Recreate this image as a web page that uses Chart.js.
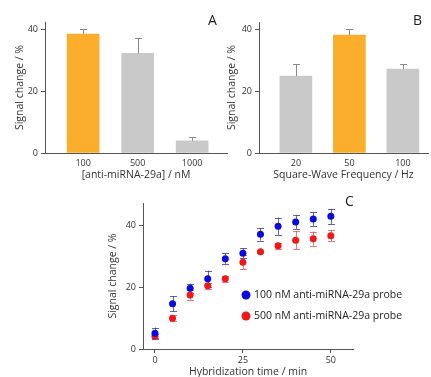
<!DOCTYPE html>
<html>
<head>
<meta charset="utf-8">
<script src="https://cdn.jsdelivr.net/npm/chart.js@4"></script>
<style>
  html, body { margin:0; padding:0; background:#fff; }
  body { position:relative; width:431px; height:377px; overflow:hidden; font-family:"Open Sans", sans-serif; }
  canvas { position:absolute; }
  .tag { position:absolute; font-size:14px; color:#222; }
</style>
</head>
<body>
<canvas id="chartA" width="232" height="185" style="left:0;top:0"></canvas>
<canvas id="chartB" width="216" height="185" style="left:215px;top:0"></canvas>
<canvas id="chartC" width="331" height="190" style="left:100px;top:190px"></canvas>
<div class="tag" style="left:208px;top:10px">A</div>
<div class="tag" style="left:413px;top:10px">B</div>
<div class="tag" style="left:345px;top:191px">C</div>
<script>
// panel A: concentration
const concLabels = ['100', '500', '1000'];
const concSignal = [38.4, 32.2, 3.9];
const concError  = [1.6, 4.8, 1.3];

// panel B: frequency
const freqLabels = ['20', '50', '100'];
const freqSignal = [24.8, 38.1, 27.1];
const freqError  = [3.9, 1.9, 1.6];

// panel C: kinetics
const timeMin   = [0, 5, 10, 15, 20, 25, 30, 35, 40, 45, 50];
const signal100 = [5.1, 14.6, 19.6, 22.7, 29.1, 30.9, 37.0, 39.6, 41.0, 41.9, 42.8];
const err100    = [1.8, 2.5, 1.5, 2.6, 1.8, 1.6, 2.0, 2.8, 2.2, 2.2, 2.4];
const signal500 = [4.1, 9.9, 17.4, 20.4, 22.7, 28.0, 31.4, 33.3, 35.1, 35.6, 36.5];
const err500    = [0.7, 1.0, 1.6, 1.0, 1.0, 2.3, 0.3, 1.0, 2.9, 2.3, 1.8];

const yTicks = [0, 20, 40];
const cTicks = [0, 25, 50];

Chart.defaults.font.family = '"Open Sans", sans-serif';
Chart.defaults.color = '#333';
Chart.defaults.animation = false;

const AXIS = '#555';

const errorBars = {
  id: 'errorBars',
  draw(chart, opts) {
    const ctx = chart.ctx, y = chart.scales.y;
    chart.data.datasets.forEach((ds, i) => {
      if (!ds.errors) return;
      const meta = chart.getDatasetMeta(i);
      ctx.save();
      ctx.strokeStyle = ds.errorColor;
      ctx.lineWidth = 1;
      meta.data.forEach((el, j) => {
        const v = ds.data[j].y, e = ds.errors[j];
        const x = Math.round(el.x) + 0.5;
        const top = y.getPixelForValue(v + e);
        const bot = opts.upOnly ? y.getPixelForValue(v) : y.getPixelForValue(v - e);
        const cap = opts.cap;
        ctx.beginPath();
        ctx.moveTo(x, bot); ctx.lineTo(x, top);
        ctx.moveTo(x - cap, Math.round(top) + 0.5); ctx.lineTo(x + cap, Math.round(top) + 0.5);
        if (!opts.upOnly) {
          ctx.moveTo(x - cap, Math.round(bot) + 0.5); ctx.lineTo(x + cap, Math.round(bot) + 0.5);
        }
        ctx.stroke();
      });
      ctx.restore();
    });
  },
  beforeDatasetsDraw(chart, args, opts) { if (opts.below) this.draw(chart, opts); },
  afterDatasetsDraw(chart, args, opts) { if (!opts.below) this.draw(chart, opts); }
};

const dotLegend = {
  id: 'dotLegend',
  afterDraw(chart, args, opts) {
    if (!opts.show) return;
    const ctx = chart.ctx;
    chart.data.datasets.forEach((ds, i) => {
      const y = opts.y + i * opts.gap;
      ctx.save();
      ctx.fillStyle = ds.backgroundColor;
      ctx.beginPath();
      ctx.arc(opts.x, y, 4.5, 0, Math.PI * 2);
      ctx.fill();
      ctx.fillStyle = '#222';
      ctx.font = '10.5px "Open Sans", sans-serif';
      ctx.textBaseline = 'middle';
      ctx.fillText(ds.label, opts.x + 8, y + 0.5);
      ctx.restore();
    });
  }
};

function yAxis(width, titlePad) {
  return {
    min: 0, max: 42.3,
    afterBuildTicks: s => { s.ticks = yTicks.map(v => ({value: v})); },
    afterFit: s => { s.width = width; },
    border: {color: AXIS, width: 1},
    grid: {drawOnChartArea: false, tickLength: 4, color: AXIS},
    ticks: {font: {size: 9}, padding: 3, color: '#333'},
    title: {display: true, text: 'Signal change / %', font: {size: 10.5}, color: '#333', padding: {top: titlePad, bottom: titlePad}}
  };
}

function barChart(id, labels, values, errors, highlight, xTitle, yWidth, yTitlePad, padRight, xMin, xMax) {
  return new Chart(document.getElementById(id), {
    type: 'bar',
    data: {
      datasets: [{
        data: values.map((v, i) => ({x: i, y: v})),
        errors: errors,
        errorColor: '#8a8a8a',
        backgroundColor: values.map((v, i) => i === highlight ? '#fbad2c' : '#c9c9c9'),
        barThickness: 32
      }]
    },
    options: {
      responsive: false,
      layout: {padding: {left: 0, top: 22, right: padRight, bottom: 0}},
      plugins: {legend: {display: false}, tooltip: {enabled: false}, errorBars: {upOnly: true, cap: 3.5}},
      scales: {
        x: {
          type: 'linear', min: xMin, max: xMax, offset: false,
          afterBuildTicks: s => { s.ticks = labels.map((l, i) => ({value: i})); },
          afterFit: s => { s.height = 32; },
          border: {color: AXIS, width: 1},
          grid: {display: true, drawOnChartArea: false, drawTicks: false, offset: false},
          ticks: {font: {size: 9}, padding: 5, color: '#333', callback: v => labels[v]},
          title: {display: true, text: xTitle, font: {size: 10.5}, color: '#333', padding: {top: 3.7, bottom: 3.7}}
        },
        y: yAxis(yWidth, yTitlePad)
      }
    },
    plugins: [errorBars]
  });
}

barChart('chartA', concLabels, concSignal, concError, 0, '[anti-miRNA-29a] / nM', 45, 13.7, 5, -0.70, 2.64);
barChart('chartB', freqLabels, freqSignal, freqError, 1, 'Square-Wave Frequency / Hz', 44, 10.7, 3, -0.69, 2.47);

new Chart(document.getElementById('chartC'), {
  type: 'scatter',
  data: {
    datasets: [
      {
        label: '100 nM anti-miRNA-29a probe',
        data: timeMin.map((t, i) => ({x: t, y: signal100[i]})),
        errors: err100, errorColor: 'rgba(40,40,200,0.75)',
        backgroundColor: '#0a0ade', borderWidth: 0, pointRadius: 3.5
      },
      {
        label: '500 nM anti-miRNA-29a probe',
        data: timeMin.map((t, i) => ({x: t, y: signal500[i]})),
        errors: err500, errorColor: 'rgba(235,60,60,0.7)',
        backgroundColor: '#f21616', borderWidth: 0, pointRadius: 3.5
      }
    ]
  },
  options: {
    responsive: false,
    layout: {padding: {left: 0, top: 13, right: 78, bottom: 0}},
    plugins: {
      legend: {display: false}, tooltip: {enabled: false},
      errorBars: {below: true, cap: 3.5},
      dotLegend: {show: true, x: 146, y: 105, gap: 21}
    },
    scales: {
      x: {
        type: 'linear', min: -3.4, max: 56.3,
        afterBuildTicks: s => { s.ticks = cTicks.map(v => ({value: v})); },
        afterFit: s => { s.height = 31; },
        border: {color: AXIS, width: 1},
        grid: {drawOnChartArea: false, tickLength: 4, color: AXIS},
        ticks: {font: {size: 9}, padding: 2, color: '#333'},
        title: {display: true, text: 'Hybridization time / min', font: {size: 10.5}, color: '#333', padding: {top: 1.7, bottom: 1.7}}
      },
      y: Object.assign(yAxis(43, 6.7), {max: 47.1})
    }
  },
  plugins: [errorBars, dotLegend]
});
</script>
</body>
</html>
